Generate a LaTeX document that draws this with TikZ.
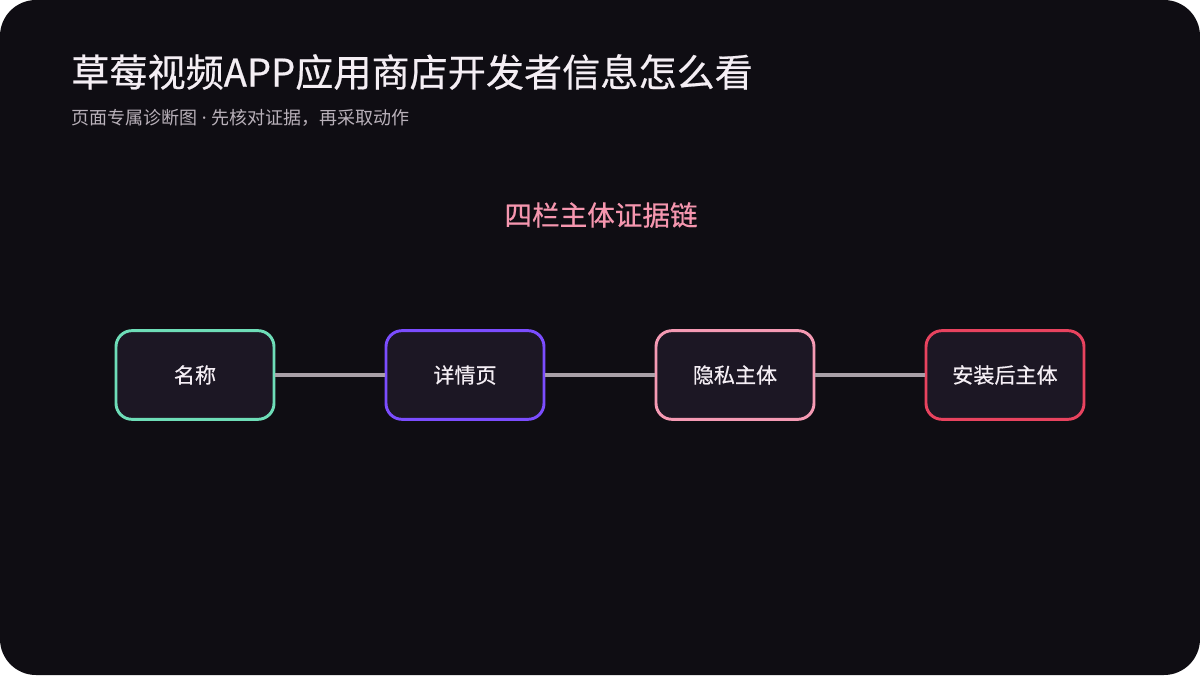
\documentclass[tikz,border=0pt]{standalone}
\usepackage{fontspec}
\setmainfont{Noto Sans CJK SC}
\newfontfamily\latinsans{Noto Sans}
\newfontfamily\cjkmid[FakeBold=0.5]{Noto Sans CJK SC}
\usetikzlibrary{positioning}

\definecolor{bgdark}{HTML}{0F0D13}
\definecolor{boxfill}{HTML}{1C1724}
\definecolor{txtlight}{HTML}{F4EEF4}
\definecolor{txtsub}{HTML}{B9B1BA}
\definecolor{headpink}{HTML}{F596AF}
\definecolor{mint}{HTML}{6EDDB8}
\definecolor{violet}{HTML}{7B4DFF}
\definecolor{rose}{HTML}{F59AB4}
\definecolor{crimson}{HTML}{E8435F}
\definecolor{linkgray}{HTML}{A9A0A8}

\begin{document}
\begin{tikzpicture}[x=0.75pt,y=-0.75pt,
        stage/.style={draw=#1,line width=2.2pt,fill=boxfill,rounded corners=12pt,
            minimum width=118.5pt,minimum height=66.5pt,inner sep=0pt,
            text=txtlight,font=\cjkmid\fontsize{15.8}{19}\selectfont},
        link/.style={draw=linkgray,line width=3pt}]
    \useasboundingbox (0,0) rectangle (1200,675);
    \fill[white] (0,0) rectangle (1200,675);
    \fill[bgdark,rounded corners=27pt] (0,0) rectangle (1200,675);

    % title block
    \node[anchor=west,inner sep=0pt,text=txtlight,font=\cjkmid\fontsize{28.6}{34}\selectfont] (title) at (71,72) {草莓视频APP应用商店开发者信息怎么看};
    \node[anchor=west,inner sep=0pt,text=txtsub,font=\fontsize{13.5}{16}\selectfont] (subtitle) at (71,118) {页面专属诊断图{\latinsans\ ·\ }先核对证据，再采取动作};
    \node[inner sep=0pt,text=headpink,font=\cjkmid\fontsize{20.7}{25}\selectfont] (heading) at (601,215) {四栏主体证据链};

    % evidence chain
    \node[stage=mint] (name) at (195,375) {名称};
    \node[stage=violet] (detail) at (465,375) {详情页};
    \node[stage=rose] (privacy) at (735,375) {隐私主体};
    \node[stage=crimson] (install) at (1005,375) {安装后主体};

    \draw[link] (name) -- (detail);
    \draw[link] (detail) -- (privacy);
    \draw[link] (privacy) -- (install);
\end{tikzpicture}
\end{document}
